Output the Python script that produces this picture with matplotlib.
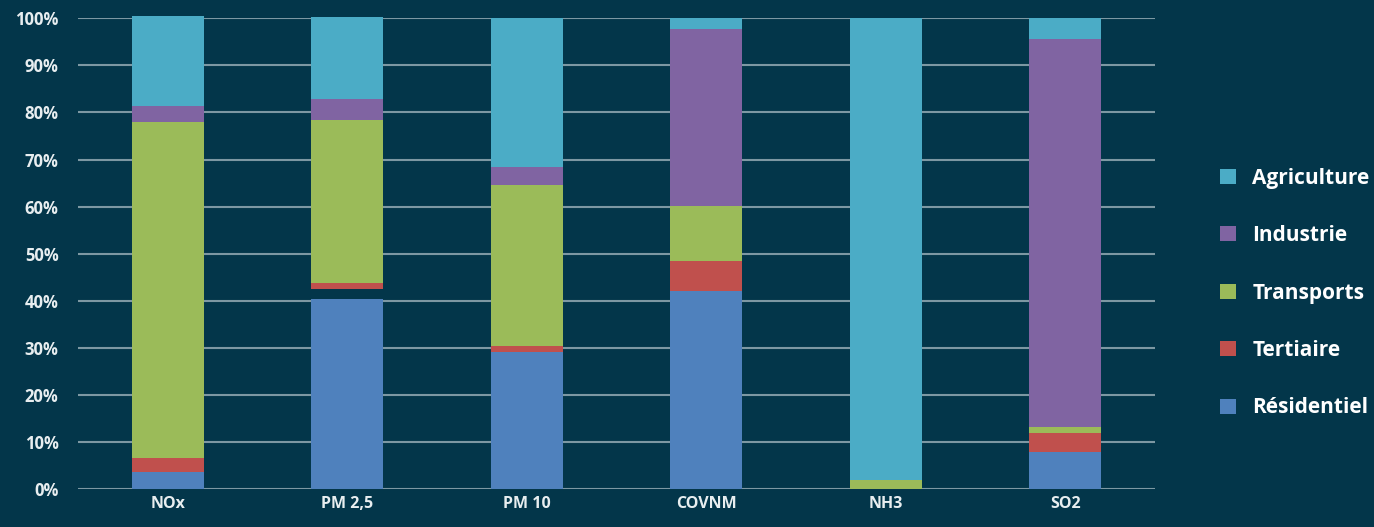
"""Répartition des émissions par secteur — barres empilées à 100 %"""
import matplotlib.pyplot as plt
import matplotlib as mpl
import numpy as np

# ── données (en %) ──
polluants = ["NOx", "PM 2,5", "PM 10", "COVNM", "NH3", "SO2"]
residentiel = [3.6, 40.3, 29.2, 42.0, 0.0, 8.0]
ecart = [0.0, 2.3, 0.0, 0.0, 0.0, 0.0]          # bande vide visible sur PM 2,5
tertiaire = [3.1, 1.1, 1.2, 6.5, 0.0, 4.0]
transports = [71.3, 34.7, 34.2, 11.6, 2.0, 1.3]
industrie = [3.4, 4.4, 3.9, 37.6, 0.0, 82.4]
agriculture = [19.1, 17.5, 31.6, 2.3, 98.0, 4.3]

fond = "#03364a"
couleurs = {
    "Résidentiel": "#4f81bd",
    "Tertiaire": "#c0504d",
    "Transports": "#9bbb59",
    "Industrie": "#8064a2",
    "Agriculture": "#4bacc6",
}

mpl.rcParams.update({
    "font.family": ["Open Sans", "DejaVu Sans"],
    "font.weight": "bold",
})

fig = plt.figure(figsize=(13.74, 5.27), dpi=100, facecolor=fond)
ax = fig.add_axes([0.0568, 0.0715, 0.7838, 0.8938], facecolor=fond)

x = np.arange(len(polluants))
largeur = 0.4

series = [
    ("Résidentiel", residentiel),
    (None, ecart),
    ("Tertiaire", tertiaire),
    ("Transports", transports),
    ("Industrie", industrie),
    ("Agriculture", agriculture),
]

bas = np.zeros(len(polluants))
poignees = {}
for nom, vals in series:
    vals = np.array(vals)
    coul = couleurs[nom] if nom else fond
    barres = ax.bar(x, vals, largeur, bottom=bas, color=coul, linewidth=0,
                    zorder=3, clip_on=False)
    if nom:
        poignees[nom] = barres
    bas += vals

# ── axes ──
ax.set_xlim(-0.5, 5.5)
ax.set_ylim(0, 100)
ax.set_yticks(np.arange(0, 101, 10))
ax.set_yticklabels([f"{v}%" for v in range(0, 101, 10)])
ax.set_xticks(x)
ax.set_xticklabels(polluants)
ax.tick_params(axis="both", length=0, colors="#e8eef0")
ax.tick_params(axis="y", pad=14, labelsize=12)
ax.tick_params(axis="x", pad=5, labelsize=11.5)
for s in ax.spines.values():
    s.set_visible(False)
ax.grid(axis="y", color="#7d98a3", linewidth=1.5, zorder=1)
ax.set_axisbelow(True)

# ── légende ──
ordre = ["Agriculture", "Industrie", "Transports", "Tertiaire", "Résidentiel"]
leg = fig.legend([poignees[n] for n in ordre], ordre,
                 loc="center left", bbox_to_anchor=(0.888, 0.444),
                 frameon=False, fontsize=15, labelcolor="white",
                 handlelength=0.75, handleheight=0.75, handletextpad=0.8,
                 labelspacing=1.75, borderaxespad=0, borderpad=0)

fig.savefig("out.png", dpi=100, facecolor=fond)
